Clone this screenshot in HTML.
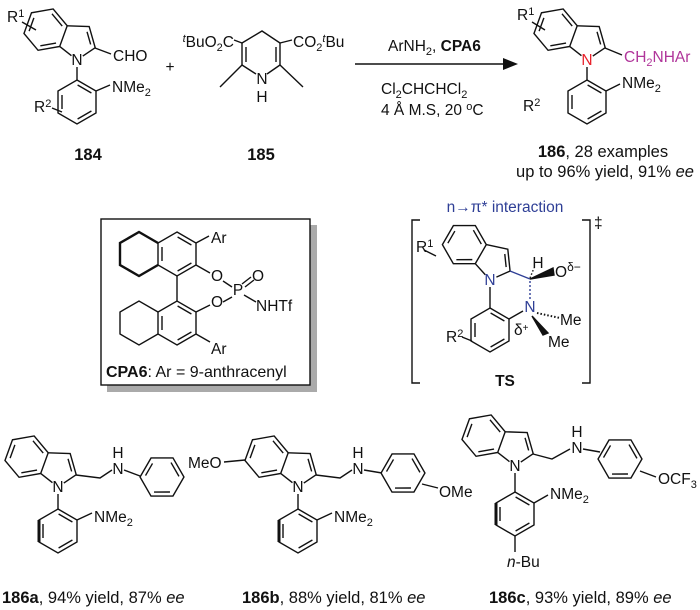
<!DOCTYPE html>
<html><head><meta charset="utf-8"><style>
html,body{margin:0;padding:0;background:#fff}
svg{display:block}
text{font-family:"Liberation Sans",Arial,sans-serif;font-size:15.5px;fill:#111}
.lb{font-size:16.5px}
.b{font-weight:bold}
.bl{fill:#2f3f96}
</style></head><body>
<svg width="700" height="610" viewBox="0 0 700 610" xmlns="http://www.w3.org/2000/svg">
<defs>
<symbol id="bz" overflow="visible">
<polygon points="0,-22 19,-11 19,11 0,22 -19,11 -19,-11" fill="none"/>
<line x1="0.6" y1="-17" x2="14.4" y2="-9"/>
<line x1="14.4" y1="9" x2="0.6" y2="17"/>
<line x1="-15" y1="-7" x2="-15" y2="7"/>
</symbol>
<symbol id="ind" overflow="visible">
<use href="#bz" transform="translate(-39.9,-17.8)"/>
<polyline points="-20.9,-28.8 0,-35.6 12.9,-17.8 4.1,-5.7" fill="none"/>
<line x1="-20.9" y1="-6.8" x2="-6.7" y2="-2.2"/>
<line x1="-0.2" y1="-29.9" x2="7.5" y2="-19.3"/>
</symbol>
</defs>
<g stroke="#111" stroke-width="1.4" fill="none">
<use href="#ind" transform="translate(77,60) rotate(20)"/>
<line x1="95" y1="48" x2="111" y2="54"/>
<line x1="77" y1="67" x2="77" y2="80"/>
<use href="#bz" transform="translate(77,102)"/>
<line x1="96" y1="91" x2="110" y2="85"/>
<line x1="22" y1="22" x2="36" y2="30"/>
<line x1="52" y1="108" x2="62" y2="112"/>
<polyline points="242,43 262,31 280,43"/>
<line x1="242" y1="43" x2="242" y2="65"/><line x1="246" y1="47" x2="246" y2="62"/>
<line x1="280" y1="43" x2="280" y2="65"/><line x1="276" y1="47" x2="276" y2="62"/>
<line x1="242" y1="65" x2="256" y2="74"/><line x1="280" y1="65" x2="267" y2="74"/>
<line x1="242" y1="65" x2="220" y2="87"/><line x1="280" y1="65" x2="303" y2="87"/>
<line x1="242" y1="43" x2="234" y2="40"/><line x1="280" y1="43" x2="292" y2="40"/>
<line x1="355" y1="64" x2="508" y2="64"/>
<use href="#ind" transform="translate(587,60) rotate(20)"/>
<line x1="605" y1="48" x2="622" y2="55"/>
<line x1="587" y1="67" x2="587" y2="80"/>
<use href="#bz" transform="translate(587,102)"/>
<line x1="606" y1="91" x2="620" y2="84"/>
<line x1="532" y1="22" x2="545" y2="30"/>
<rect x="107" y="225" width="210" height="167" fill="#aaa" stroke="none"/>
<rect x="101" y="219" width="209" height="166" fill="#fff"/>
<use href="#bz" transform="translate(177,254)"/>
<polyline points="158,243 139,232 120,243 120,265 139,276 158,265" stroke-width="2.4"/>
<use href="#bz" transform="translate(177,323) scale(1,-1)"/>
<polyline points="158,312 139,301 120,312 120,334 139,345 158,334"/>
<line x1="177" y1="276" x2="177" y2="301"/>
<line x1="196" y1="243" x2="209" y2="236"/>
<line x1="196" y1="265" x2="210" y2="273"/>
<line x1="223" y1="281" x2="232" y2="287"/>
<line x1="242" y1="284" x2="251" y2="277"/><line x1="245" y1="287" x2="254" y2="280"/>
<line x1="244" y1="295" x2="256" y2="302"/>
<line x1="196" y1="312" x2="210" y2="305"/>
<line x1="223" y1="302" x2="232" y2="297"/>
<line x1="196" y1="334" x2="210" y2="342"/>
<polyline points="420,220 412,220 412,383 420,383"/>
<polyline points="582,220 590,220 590,383 582,383"/>
<use href="#ind" transform="translate(490,280) rotate(30)"/>
<line x1="490" y1="287" x2="490" y2="308"/>
<use href="#bz" transform="translate(490,330)"/>
<line x1="509" y1="319" x2="523" y2="311"/>
<line x1="510" y1="271" x2="530" y2="279" stroke="#2f3f96"/>
<line x1="530" y1="281" x2="530" y2="301" stroke="#2f3f96" stroke-dasharray="2,2"/>
<line x1="530" y1="278" x2="534" y2="268" stroke-dasharray="1.5,2"/>
<polygon points="530,279 553,268 554,275" fill="#111"/>
<line x1="537" y1="313" x2="560" y2="318" stroke-dasharray="1.5,2" stroke-width="2"/>
<polygon points="532,316 548,333 543,335" fill="#111"/>
<line x1="424" y1="250" x2="436" y2="256"/>
<line x1="462" y1="337" x2="472" y2="341"/>
<use href="#ind" transform="translate(58,487) rotate(20)"/>
<polyline points="76,475 100,478 112,470"/>
<line x1="124" y1="470" x2="140" y2="476"/>
<use href="#bz" transform="translate(162,477) rotate(30)"/>
<line x1="58" y1="494" x2="58" y2="509"/>
<use href="#bz" transform="translate(58,531)"/>
<line x1="39" y1="520" x2="39" y2="542" stroke-width="3"/>
<line x1="77" y1="520" x2="92" y2="513"/>
<use href="#ind" transform="translate(298,487) rotate(20)"/>
<line x1="224" y1="462" x2="245" y2="460"/>
<polyline points="316,475 340,478 352,470"/>
<line x1="364" y1="470" x2="382" y2="473"/>
<use href="#bz" transform="translate(403,473) rotate(30)"/>
<line x1="422" y1="484" x2="438" y2="488"/>
<line x1="298" y1="494" x2="298" y2="509"/>
<use href="#bz" transform="translate(298,531)"/>
<line x1="279" y1="520" x2="279" y2="542" stroke-width="3"/>
<line x1="317" y1="520" x2="332" y2="513"/>
<use href="#ind" transform="translate(515,466) rotate(20)"/>
<polyline points="533,454 552,459 570,449"/>
<line x1="583" y1="449" x2="600" y2="452"/>
<use href="#bz" transform="translate(620,459) rotate(30)"/>
<line x1="640" y1="471" x2="656" y2="477"/>
<line x1="515" y1="473" x2="515" y2="492"/>
<use href="#bz" transform="translate(515,514)"/>
<line x1="496" y1="503" x2="496" y2="525" stroke-width="3"/>
<line x1="534" y1="503" x2="548" y2="495"/>
<line x1="515" y1="536" x2="515" y2="552"/>
</g>
<polygon points="518,64 503,58 503,70" fill="#111"/>
<text x="7" y="22">R<tspan dy="-5" font-size="11">1</tspan></text>
<text x="77" y="65" text-anchor="middle">N</text>
<text x="113" y="61">CHO</text>
<text x="112" y="92">NMe<tspan dy="4" font-size="11">2</tspan></text>
<text x="34" y="112">R<tspan dy="-5" font-size="11">2</tspan></text>
<text x="88" y="160" text-anchor="middle" class="lb b">184</text>
<text x="170" y="72" text-anchor="middle">+</text>
<text x="234" y="47" text-anchor="end"><tspan dy="-5" font-size="11" font-style="italic">t</tspan><tspan dy="5">BuO</tspan><tspan dy="4" font-size="11">2</tspan><tspan dy="-4">C</tspan></text>
<text x="293" y="47">CO<tspan dy="4" font-size="11">2</tspan><tspan dy="-9" font-size="11" font-style="italic">t</tspan><tspan dy="5">Bu</tspan></text>
<text x="262" y="84" text-anchor="middle">N</text>
<text x="262" y="102" text-anchor="middle">H</text>
<text x="261" y="160" text-anchor="middle" class="lb b">185</text>
<text x="388" y="51">ArNH<tspan dy="4" font-size="11">2</tspan><tspan dy="-4">, </tspan><tspan class="b">CPA6</tspan></text>
<text x="381" y="94">Cl<tspan dy="4" font-size="11">2</tspan><tspan dy="-4">CHCHCl</tspan><tspan dy="4" font-size="11">2</tspan></text>
<text x="381" y="115">4 Å M.S, 20 <tspan dy="-5" font-size="11">o</tspan><tspan dy="5">C</tspan></text>
<text x="517" y="20">R<tspan dy="-5" font-size="11">1</tspan></text>
<text x="587" y="65" text-anchor="middle" style="fill:#e8202a">N</text>
<text x="624" y="62" style="fill:#b0359a">CH<tspan dy="4" font-size="11">2</tspan><tspan dy="-4">NHAr</tspan></text>
<text x="622" y="88">NMe<tspan dy="4" font-size="11">2</tspan></text>
<text x="523" y="111">R<tspan dy="-5" font-size="11">2</tspan></text>
<text x="603" y="157" text-anchor="middle" class="lb"><tspan class="b">186</tspan>, 28 examples</text>
<text x="605" y="177" text-anchor="middle" class="lb">up to 96% yield, 91% <tspan font-style="italic">ee</tspan></text>
<text x="211" y="243">Ar</text>
<text x="217" y="281" text-anchor="middle">O</text>
<text x="238" y="295" text-anchor="middle">P</text>
<text x="258" y="281" text-anchor="middle">O</text>
<text x="256" y="311">NHTf</text>
<text x="217" y="307" text-anchor="middle">O</text>
<text x="211" y="354">Ar</text>
<text x="106" y="377" style="font-size:16px"><tspan class="b">CPA6</tspan>: Ar = 9-anthracenyl</text>
<text x="505" y="212" text-anchor="middle" class="bl">n<tspan>→</tspan>π* interaction</text>
<text x="594" y="228" font-size="12">‡</text>
<text x="416" y="252">R<tspan dy="-5" font-size="11">1</tspan></text>
<text x="490" y="285" text-anchor="middle" class="bl">N</text>
<text x="538" y="268" text-anchor="middle">H</text>
<text x="555" y="277">O<tspan dy="-6" font-size="12">δ−</tspan></text>
<text x="530" y="312" text-anchor="middle" class="bl">N</text>
<text x="560" y="325">Me</text>
<text x="548" y="347">Me</text>
<text x="514" y="335" font-size="13">δ<tspan dy="-4" font-size="10">+</tspan></text>
<text x="446" y="342">R<tspan dy="-5" font-size="11">2</tspan></text>
<text x="505" y="386" text-anchor="middle" class="b">TS</text>
<text x="58" y="492" text-anchor="middle">N</text>
<text x="118" y="474" text-anchor="middle">N</text>
<text x="118" y="458" text-anchor="middle">H</text>
<text x="94" y="522">NMe<tspan dy="4" font-size="11">2</tspan></text>
<text x="2" y="603" class="lb"><tspan class="b">186a</tspan>, 94% yield, 87% <tspan font-style="italic">ee</tspan></text>
<text x="188" y="468">MeO</text>
<text x="298" y="492" text-anchor="middle">N</text>
<text x="358" y="474" text-anchor="middle">N</text>
<text x="358" y="458" text-anchor="middle">H</text>
<text x="439" y="497">OMe</text>
<text x="334" y="522">NMe<tspan dy="4" font-size="11">2</tspan></text>
<text x="242" y="603" class="lb"><tspan class="b">186b</tspan>, 88% yield, 81% <tspan font-style="italic">ee</tspan></text>
<text x="515" y="471" text-anchor="middle">N</text>
<text x="577" y="453" text-anchor="middle">N</text>
<text x="577" y="437" text-anchor="middle">H</text>
<text x="658" y="484">OCF<tspan dy="4" font-size="11">3</tspan></text>
<text x="550" y="499">NMe<tspan dy="4" font-size="11">2</tspan></text>
<text x="507" y="567"><tspan font-style="italic">n</tspan>-Bu</text>
<text x="489" y="603" class="lb"><tspan class="b">186c</tspan>, 93% yield, 89% <tspan font-style="italic">ee</tspan></text>
</svg>
</body></html>
